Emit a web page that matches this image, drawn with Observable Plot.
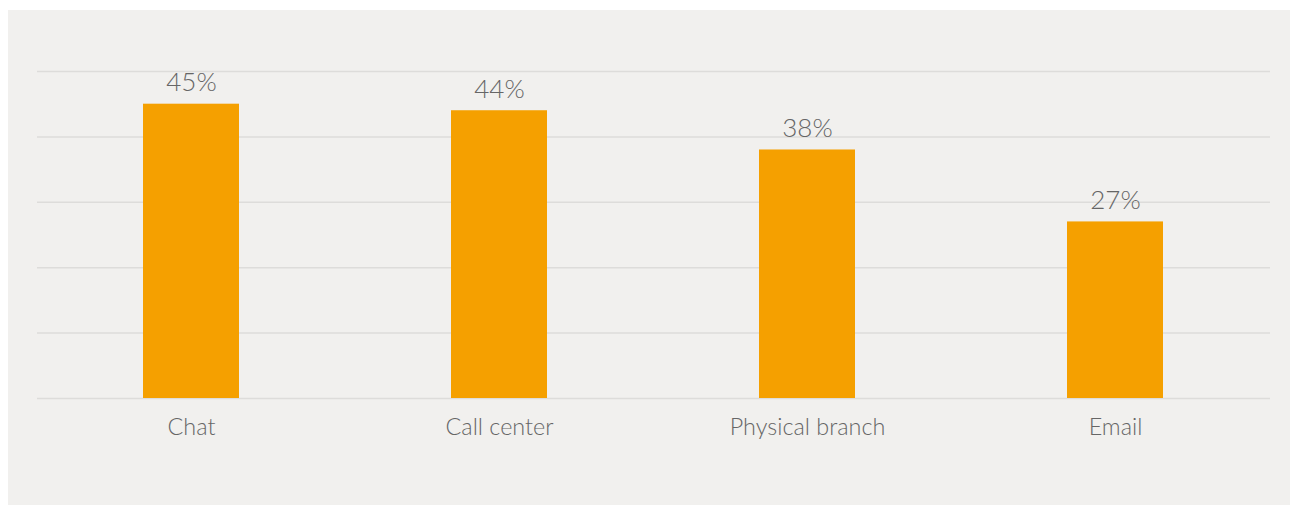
<!DOCTYPE html>
<html>
<head>
<meta charset="utf-8">
<script src="https://cdn.jsdelivr.net/npm/d3@7"></script>
<script src="https://cdn.jsdelivr.net/npm/@observablehq/plot@0.6"></script>
<style>
  html, body { margin: 0; padding: 0; background: #ffffff; }
  #panel { position: absolute; left: 8px; top: 10px; width: 1282px; height: 495px; background: #f1f0ee; }
  #panel svg { display: block; }
</style>
</head>
<body>
<div id="panel"></div>
<script>
const categories = ["Chat", "Call center", "Physical branch", "Email"];
const values = [45, 44, 38, 27];
const gridTicks = [0, 10, 20, 30, 40, 50];

const data = categories.map((c, i) => ({category: c, value: values[i]}));

const chart = Plot.plot({
  width: 1282,
  height: 495,
  marginLeft: 29,
  marginRight: 20,
  marginTop: 61,
  marginBottom: 107,
  style: {background: "transparent", fontFamily: "Lato, 'Open Sans', sans-serif", fontWeight: 300, color: "#666"},
  x: {domain: categories, paddingInner: 0.688, paddingOuter: 0.344, label: null},
  y: {domain: [0, 50], label: null},
  marks: [
    Plot.gridY(gridTicks, {stroke: "#dddcda", strokeOpacity: 1, strokeWidth: 1.5}),
    Plot.barY(data, {x: "category", y: "value", fill: "#f5a000"}),
    Plot.text(data, {x: "category", y: "value", text: d => d.value + "%", lineAnchor: "bottom", dy: -13, fontSize: 26, fill: "#666"}),
    Plot.axisX({tickSize: 0, tickPadding: 20, fontSize: 23.4, fill: "#666", label: null}),
    Plot.axisY({ticks: [], label: null})
  ]
});
document.getElementById("panel").appendChild(chart);
</script>
</body>
</html>
